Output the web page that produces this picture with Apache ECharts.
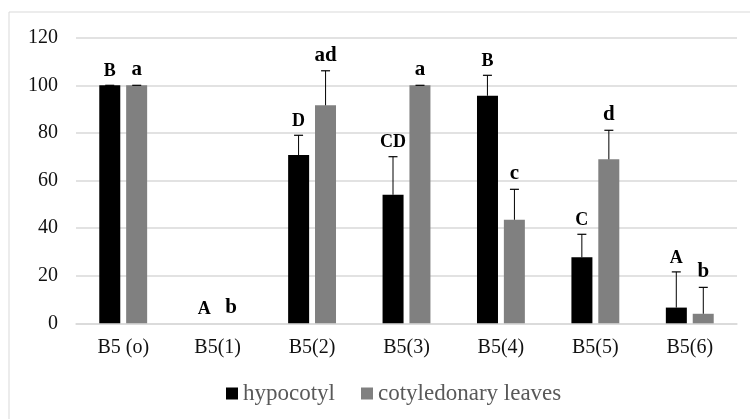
<!DOCTYPE html>
<html><head><meta charset="utf-8">
<script src="https://cdn.jsdelivr.net/npm/echarts@6/dist/echarts.min.js"></script>
<style>html,body{margin:0;padding:0;background:#fff}#c{width:750px;height:419px}</style>
</head><body><div id="c"></div>
<script>
const categories = ['B5 (o)', 'B5(1)', 'B5(2)', 'B5(3)', 'B5(4)', 'B5(5)', 'B5(6)'];
const hypocotyl = [100, 0, 70.7, 54.0, 95.6, 27.7, 6.6];
const hypocotylErr = [0, 0, 8.3, 16.0, 8.6, 9.7, 15.0];
const hypocotylLetters = ['B', 'A', 'D', 'CD', 'B', 'C', 'A'];
const cotyledonary = [100, 0, 91.6, 100, 43.5, 68.9, 4.0];
const cotyledonaryErr = [0, 0, 14.5, 0, 12.8, 12.2, 11.1];
const cotyledonaryLetters = ['a', 'b', 'ad', 'a', 'c', 'd', 'b'];
const yTicks = {min: 0, max: 120, interval: 20};

const FONT = '"Liberation Serif", "Times New Roman", serif';
const chart = echarts.init(document.getElementById('c'));

function errSeries(vals, errs, letters, offset, fontSize) {
  return {
    type: 'custom',
    z: 10,
    clip: false,
    silent: true,
    data: vals.map((v, i) => [i, v, errs[i]]),
    renderItem: function (params, api) {
      const ci = api.value(0), v = api.value(1), e = api.value(2);
      const base = api.coord([ci, v]);
      const top = api.coord([ci, v + e]);
      const x = base[0] + offset;
      const children = [];
      if (!(v === 0 && e === 0)) {
        children.push({type: 'line', shape: {x1: x, y1: base[1], x2: x, y2: top[1]}, style: {stroke: '#000', lineWidth: 1}});
        children.push({type: 'line', shape: {x1: x - 4.5, y1: top[1], x2: x + 4.5, y2: top[1]}, style: {stroke: '#000', lineWidth: 1.2}});
      }
      children.push({type: 'text', style: {text: letters[params.dataIndex], x: x, y: top[1] - 5, align: 'center', verticalAlign: 'bottom', font: 'bold ' + fontSize + 'px ' + FONT, fill: '#000'}});
      return {type: 'group', children: children};
    }
  };
}

chart.setOption({
  animation: false,
  graphic: [{type: 'rect', shape: {x: 9, y: 12, width: 800, height: 500}, style: {fill: 'none', stroke: '#d9d9d9', lineWidth: 1}, silent: true}],
  grid: {left: 76, right: 13, top: 37.7, bottom: 95.7, containLabel: false},
  legend: {
    data: ['hypocotyl', 'cotyledonary leaves'],
    left: 221, top: 377,
    icon: 'rect', itemWidth: 12, itemHeight: 12, itemGap: 26,
    textStyle: {fontFamily: FONT, fontSize: 23, color: '#595959'}
  },
  xAxis: {
    type: 'category', data: categories,
    axisTick: {show: false},
    axisLine: {lineStyle: {color: '#d9d9d9', width: 1.5}},
    axisLabel: {fontFamily: FONT, fontSize: 20, color: '#111', margin: 14}
  },
  yAxis: {
    type: 'value', min: yTicks.min, max: yTicks.max, interval: yTicks.interval,
    axisLine: {show: false}, axisTick: {show: false},
    splitLine: {lineStyle: {color: '#d9d9d9', width: 1.5}},
    axisLabel: {fontFamily: FONT, fontSize: 20, color: '#111', margin: 18}
  },
  series: [
    {name: 'hypocotyl', type: 'bar', data: hypocotyl, barWidth: 21, barGap: '28%', itemStyle: {color: '#000'}},
    {name: 'cotyledonary leaves', type: 'bar', data: cotyledonary, barWidth: 21, barGap: '28%', itemStyle: {color: '#808080'}},
    errSeries(hypocotyl, hypocotylErr, hypocotylLetters, -13.5, 18),
    errSeries(cotyledonary, cotyledonaryErr, cotyledonaryLetters, 13.5, 21)
  ]
});
</script></body></html>
